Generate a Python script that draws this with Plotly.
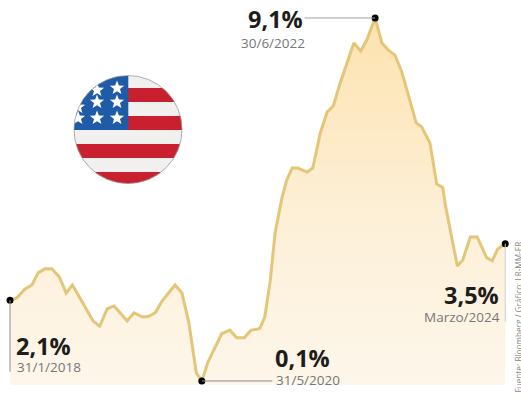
import math
import plotly.graph_objects as go

# Monthly inflation path, months counted from January 2018
months = [0, 1.0, 2.2, 3.2, 4.1, 5.1, 6.1, 7.2, 8.2, 9.1, 10.2, 12.1, 13.1, 14.2, 15.2, 17.1, 18.1,
          19.3, 20.1, 21.2, 22.2, 24.1, 25.1, 26.1, 27.2, 28, 28.9, 29.9, 30.9, 32.1, 33.1, 34.2,
          35.2, 36.2, 36.5, 37.2, 38, 38.7, 39.4, 39.7, 40.4, 41.2, 42, 43.4, 44.2, 45.3, 46.3,
          47.2, 48.2, 49.2, 50.2, 51.2, 52.1, 53.3, 54.3, 55.2, 56.2, 57.2, 58.1, 59.3, 60.1,
          61.3, 62.3, 63.2, 63.5, 64.5, 65.3, 66.1, 67.2, 68.2, 69.6, 70.4, 71.2, 72.3]
inflation = [2.1, 2.16, 2.38, 2.48, 2.78, 2.88, 2.88, 2.68, 2.28, 2.48, 2.16, 1.59, 1.46, 1.89, 1.96,
             1.59, 1.79, 1.69, 1.69, 1.79, 2.08, 2.48, 2.28, 1.56, 0.30, 0.1, 0.57, 0.94, 1.27, 1.36,
             1.17, 1.17, 1.36, 1.39, 1.41, 1.69, 2.60, 3.77, 4.39, 4.64, 5.08, 5.38, 5.38, 5.28, 5.38,
             6.25, 6.77, 6.92, 7.49, 7.99, 8.48, 8.28, 8.56, 9.1, 8.48, 8.31, 8.18, 7.76, 7.24, 6.50,
             6.40, 6.00, 4.98, 4.89, 4.51, 3.67, 2.95, 3.10, 3.67, 3.67, 3.15, 3.08, 3.37, 3.5]

# Highlighted readings
key_months = [0, 28, 53.3, 72.3]
key_values = [2.1, 0.1, 9.1, 3.5]
key_percent = ["2,1%", "0,1%", "9,1%", "3,5%"]
key_dates = ["31/1/2018", "31/5/2020", "30/6/2022", "Marzo/2024"]
source_text = "Fuente: Bloomberg / Gráfico: LR-MM-ER"

W, H = 521, 401
FONT = "Open Sans"
DARK = "#1d1d1b"
GREY = "#77777a"
LINE = "#e3c677"


def px(x):
    return x / W


def py(y):
    return 1 - y / H


def path_of(points):
    return "M" + "L".join(f"{px(x):.5f},{py(y):.5f}" for x, y in points) + "Z"


CX, CY, R = 128, 129.5, 54


def disc_band(top, bottom, x_max=None):
    """Part of the flag disc between two heights, optionally cut on the right."""
    n = 40
    top = max(top, CY - R)
    bottom = min(bottom, CY + R)
    ys = [top + (bottom - top) * i / n for i in range(n + 1)]
    half = [math.sqrt(max(R * R - (y - CY) ** 2, 0)) for y in ys]
    right = [CX + h if x_max is None else min(CX + h, x_max) for h in half]
    left = [CX - h for h in half]
    return path_of(list(zip(right, ys)) + list(zip(left, ys))[::-1])


def star(x, y, r=7.5):
    pts = []
    for i in range(10):
        a = -math.pi / 2 + i * math.pi / 5
        rad = r if i % 2 == 0 else r * 0.42
        pts.append((x + rad * math.cos(a), y + rad * math.sin(a)))
    return path_of(pts)


def filled(path, color):
    return dict(type="path", xref="paper", yref="paper", path=path,
                fillcolor=color, line=dict(width=0), layer="above")


shapes = [filled(disc_band(76, 184), "#f2efef")]
for top, bottom in [(88, 102), (116, 130), (144, 158), (172, 184)]:
    shapes.append(filled(disc_band(top, bottom), "#c9202f"))
shapes.append(filled(disc_band(76, 130, x_max=128.3), "#1f5ba6"))
for sx, sy in [(117, 88), (97, 90), (117, 102), (97, 102), (78, 107), (117, 118), (97, 118), (78, 118)]:
    shapes.append(filled(star(sx, sy), "#ffffff"))
# Thin rim around the flag disc
shapes.append(dict(type="circle", xref="paper", yref="paper",
                   x0=px(CX - R), x1=px(CX + R), y0=py(CY + R), y1=py(CY - R),
                   line=dict(color="#9a9a9a", width=0.8), fillcolor="rgba(0,0,0,0)", layer="above"))


def leader(x0, y0, x1, y1, color="#8c8c8c"):
    return dict(type="line", xref="x", yref="y", x0=x0, y0=y0, x1=x1, y1=y1,
                line=dict(color=color, width=1), layer="above")


shapes += [
    leader(key_months[0], key_values[0], key_months[0], 0.33),
    leader(key_months[1], key_values[1], 38.3, key_values[1]),
    leader(43, key_values[2], key_months[2], key_values[2], "#a0a0a0"),
    leader(key_months[3], key_values[3], key_months[3], 1.56, "#cfcfcf"),
]

fig = go.Figure()
fig.add_trace(go.Scatter(
    x=months, y=inflation, mode="lines", fill="tozeroy",
    fillgradient=dict(type="vertical",
                      colorscale=[[0, "#fdf6ea"], [0.45, "#fdf0d8"], [1, "#fde2ae"]]),
    line=dict(color=LINE, width=3, shape="linear"),
    hoverinfo="skip", showlegend=False,
))
fig.add_trace(go.Scatter(
    x=key_months, y=key_values, mode="markers",
    marker=dict(color="#000000", size=7), hoverinfo="skip", showlegend=False,
))


def label(text, x, y, anchor, size, color, bold=False):
    fig.add_annotation(
        xref="paper", yref="paper", x=px(x), y=py(y), xanchor=anchor, yanchor="middle",
        text=f"<b>{text}</b>" if bold else text, showarrow=False,
        font=dict(family=FONT, size=size, color=color), borderpad=0, borderwidth=0,
    )


# Value and date captions beside each highlighted point
label(key_percent[0], 16, 346, "left", 23.5, DARK, True)
label(key_dates[0], 17, 367, "left", 13.5, GREY)
label(key_percent[1], 275, 358, "left", 23.5, DARK, True)
label(key_dates[1], 276, 380, "left", 13.5, GREY)
label(key_percent[2], 303, 19, "right", 23.5, DARK, True)
label(key_dates[2], 305, 43, "right", 13.5, GREY)
label(key_percent[3], 499, 295, "right", 23.5, DARK, True)
label(key_dates[3], 500, 317, "right", 13.5, GREY)

fig.add_annotation(
    xref="paper", yref="paper", x=px(518), y=py(240), xanchor="center", yanchor="top",
    text=source_text, textangle=-90, showarrow=False,
    font=dict(family=FONT, size=8.2, color="#8a8a8a"),
)

fig.update_layout(
    width=W, height=H, margin=dict(l=0, r=0, t=0, b=0),
    paper_bgcolor="#ffffff", plot_bgcolor="#ffffff", shapes=shapes, showlegend=False,
    xaxis=dict(range=[-1.46, 74.6], visible=False, fixedrange=True),
    yaxis=dict(range=[-0.397, 9.546], visible=False, fixedrange=True),
)

fig.write_html("out.html", config=dict(displayModeBar=False))
